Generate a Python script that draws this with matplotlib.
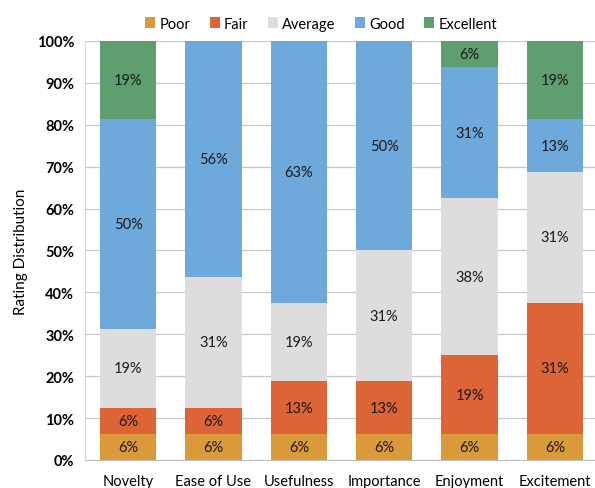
import matplotlib
matplotlib.use("Agg")
import matplotlib.pyplot as plt
import numpy as np

plt.rcParams["font.family"] = ["Lato", "DejaVu Sans"]

# ── Data ─────────────────────────────────────────────────────
categories = ["Novelty", "Ease of Use", "Usefulness", "Importance", "Enjoyment", "Excitement"]
levels = ["Poor", "Fair", "Average", "Good", "Excellent"]
poor      = [6.25, 6.25, 6.25, 6.25, 6.25, 6.25]
fair      = [6.25, 6.25, 12.5, 12.5, 18.75, 31.25]
average   = [18.75, 31.25, 18.75, 31.25, 37.5, 31.25]
good      = [50.0, 56.25, 62.5, 50.0, 31.25, 12.5]
excellent = [18.75, 0.0, 0.0, 0.0, 6.25, 18.75]

COLORS = ["#DA9A3A", "#DC6436", "#DDDDDD", "#6EA9DC", "#5F9E6E"]

fig = plt.figure(figsize=(5.95, 4.89), dpi=100)
ax = fig.add_axes([0.1435, 0.0573, 0.861, 0.857])

x = np.arange(len(categories))
bottom = np.zeros(len(categories))
for name, vals, col in zip(levels, [poor, fair, average, good, excellent], COLORS):
    vals = np.array(vals)
    ax.bar(x, vals, 0.66, bottom=bottom, color=col, label=name, zorder=2)
    for xi, v, b in zip(x, vals, bottom):
        if v > 0:
            # round half up, like Excel
            ax.text(xi, b + v / 2, f"{int(v + 0.5)}%", ha="center", va="center",
                    fontsize=10.5, color="#1a1a1a", zorder=3)
    bottom += vals

ax.set_xlim(-0.5, len(categories) - 0.5)
ax.set_ylim(0, 100)
ax.set_yticks(np.arange(0, 101, 10))
ax.set_yticklabels([f"{t}%" for t in range(0, 101, 10)], fontweight="bold", fontsize=10.5)
ax.set_xticks(x)
ax.set_xticklabels(categories, fontsize=10.5)
ax.tick_params(axis="both", length=0)
ax.tick_params(axis="x", pad=10)
ax.tick_params(axis="y", pad=8)
ax.set_ylabel("Rating Distribution", fontsize=11, labelpad=6)

ax.yaxis.grid(True, color="#C8C8C8", linewidth=0.9, zorder=0)
ax.set_axisbelow(True)
for s in ["top", "right"]:
    ax.spines[s].set_visible(False)
ax.spines["left"].set_color("#D9D9D9")
ax.spines["bottom"].set_color("#BFBFBF")

ax.legend(loc="lower center", bbox_to_anchor=(0.46, 1.0), ncol=5, frameon=False,
          fontsize=10.5, handlelength=0.7, handleheight=0.7, handletextpad=0.3,
          columnspacing=1.3, borderaxespad=0.3)

fig.savefig("out.png", dpi=100)
